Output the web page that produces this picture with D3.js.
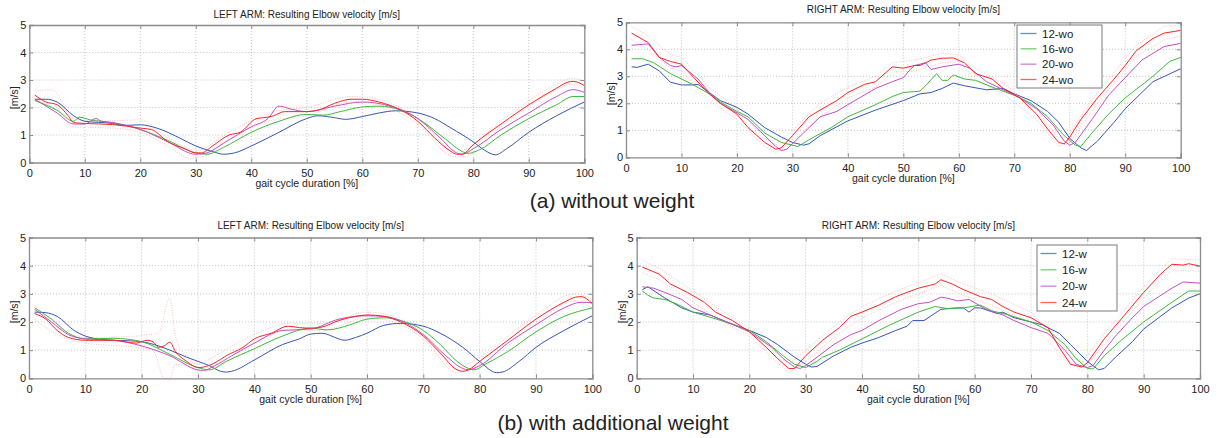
<!DOCTYPE html>
<html>
<head>
<meta charset="utf-8">
<script src="https://cdn.jsdelivr.net/npm/d3@7"></script>
<style>
  body { margin: 0; background: #fff; }
  svg text { font-family: "Liberation Sans", Arial, sans-serif; fill: #222; }
</style>
</head>
<body>
<script>
// tick values shared by all panels
const xTicks = [0, 10, 20, 30, 40, 50, 60, 70, 80, 90, 100];
const yTicks = [0, 1, 2, 3, 4, 5];
const seriesColors = ["#3556b6", "#3eb83e", "#c24fc2", "#ff2222"];
const legendWo = ["12-wo", "16-wo", "20-wo", "24-wo"];
const legendW = ["12-w", "16-w", "20-w", "24-w"];

// (a) without weight, LEFT ARM
const leftWo12 = [[1,2.3],[3,2.3],[5,2.2],[8,1.7],[10,1.5],[15,1.42],[17,1.35],[20,1.37],[23,1.25],[27,0.9],[30,0.6],[33,0.4],[35,0.3],[37,0.35],[40,0.6],[45,1.1],[50,1.6],[52,1.7],[55,1.63],[57,1.57],[60,1.67],[63,1.8],[66,1.88],[70,1.8],[73,1.6],[76,1.25],[80,0.75],[82,0.45],[84,0.28],[86,0.5],[90,1.1],[95,1.7],[100,2.2]];
const leftWo16 = [[1,2.25],[5,1.9],[8,1.5],[9,1.65],[11,1.55],[15,1.45],[20,1.2],[25,0.8],[30,0.35],[32,0.3],[35,0.55],[40,1.1],[45,1.5],[50,1.75],[53,1.72],[56,1.85],[60,2.02],[63,2.05],[67,1.9],[70,1.6],[75,0.85],[78,0.4],[79,0.33],[81,0.45],[85,1.0],[90,1.6],[95,2.1],[98,2.4],[100,2.4]];
const leftWo20 = [[1,2.3],[5,1.8],[8,1.4],[10,1.4],[12,1.6],[13,1.5],[15,1.45],[20,1.2],[25,0.75],[30,0.3],[32,0.35],[35,0.7],[40,1.3],[43,1.6],[45,2.05],[47,1.95],[50,1.85],[55,2.05],[60,2.2],[65,2.05],[70,1.6],[74,0.9],[77,0.35],[78,0.3],[80,0.5],[85,1.2],[90,1.8],[95,2.4],[98,2.65],[100,2.55]];
const leftWo24 = [[1,2.45],[3,2.2],[5,2.1],[7,1.7],[8,1.45],[10,1.42],[15,1.38],[20,1.25],[22,1.2],[25,0.75],[28,0.5],[30,0.35],[31,0.35],[33,0.6],[36,1.0],[38,1.1],[41,1.6],[43,1.65],[44,1.7],[46,1.85],[50,1.85],[52,1.9],[55,2.15],[58,2.3],[60,2.3],[63,2.2],[67,1.9],[70,1.5],[73,0.9],[76,0.4],[77,0.3],[78,0.3],[80,0.65],[85,1.4],[90,2.1],[95,2.7],[97,2.92],[98,2.95],[100,2.8]];
// faint dotted spread lines of the 24-wo series
const leftWo24Up = [[1,2.6],[4,2.65],[8,1.6],[12,1.5],[20,1.55],[25,0.9],[30,0.45],[36,1.1],[44,1.85],[50,2.0],[58,2.4],[63,2.3],[70,1.6],[77,0.4],[85,1.5],[92,2.5],[98,3.05],[100,2.95]];
const leftWo24Low = [[1,2.3],[5,1.9],[8,1.3],[15,1.25],[20,1.1],[25,0.6],[29,0.15],[31,0.2],[36,0.85],[44,1.55],[50,1.7],[58,2.2],[63,2.1],[70,1.4],[76,0.25],[78,0.2],[85,1.3],[92,2.3],[98,2.85],[100,2.65]];

// (a) without weight, RIGHT ARM
const rightWo12 = [[1,3.35],[2,3.33],[4,3.45],[6,3.2],[8,2.78],[10,2.68],[12,2.68],[13,2.7],[15,2.4],[17,2.1],[20,1.85],[22,1.6],[25,1.1],[28,0.75],[30,0.55],[32,0.45],[33,0.5],[35,0.8],[40,1.35],[45,1.75],[50,2.1],[53,2.35],[55,2.4],[57,2.55],[59,2.75],[61,2.65],[65,2.5],[68,2.55],[70,2.35],[73,2.1],[76,1.7],[78,1.3],[80,0.7],[82,0.35],[83,0.25],[85,0.6],[88,1.3],[90,1.8],[95,2.8],[100,3.28]];
const rightWo16 = [[1,3.65],[3,3.65],[5,3.5],[8,3.1],[10,2.9],[12,2.7],[15,2.35],[17,2.05],[20,1.7],[22,1.5],[25,0.9],[28,0.55],[30,0.45],[31,0.4],[33,0.65],[37,1.1],[40,1.5],[45,1.95],[48,2.25],[50,2.4],[53,2.45],[54,2.65],[56,3.1],[57,2.85],[58,2.85],[59,3.05],[61,2.9],[63,2.85],[66,2.6],[70,2.3],[73,2.0],[76,1.5],[79,0.8],[81,0.45],[82,0.4],[84,0.9],[87,1.6],[90,2.2],[95,3.0],[98,3.55],[100,3.7]];
const rightWo20 = [[1,4.15],[4,4.2],[6,3.7],[8,3.4],[9,3.35],[10,3.4],[13,2.9],[15,2.4],[17,2.0],[20,1.65],[22,1.4],[25,0.8],[27,0.4],[28,0.25],[29,0.3],[32,0.9],[35,1.5],[38,1.7],[40,1.95],[45,2.55],[48,2.8],[50,2.95],[51,3.2],[52,3.4],[54,3.5],[55,3.25],[57,3.35],[60,3.45],[62,3.3],[65,2.8],[68,2.5],[71,2.2],[74,1.8],[77,1.2],[79,0.6],[80,0.45],[81,0.55],[84,1.4],[87,2.3],[90,2.95],[93,3.6],[97,4.1],[100,4.22]];
const rightWo24 = [[1,4.6],[4,4.25],[6,3.7],[8,3.55],[10,3.45],[12,3.0],[15,2.35],[17,2.0],[20,1.6],[22,1.1],[25,0.55],[27,0.3],[28,0.35],[30,0.8],[33,1.5],[35,1.75],[38,2.1],[40,2.4],[43,2.7],[45,2.8],[48,3.35],[50,3.3],[52,3.4],[53,3.4],[55,3.6],[57,3.67],[59,3.68],[61,3.5],[63,3.1],[66,2.9],[68,2.55],[71,2.2],[74,1.6],[76,1.05],[78,0.55],[79,0.5],[80,0.75],[82,1.4],[85,2.2],[88,2.9],[90,3.4],[92,3.95],[95,4.4],[97,4.6],[100,4.7]];
const rightWo24Up = [[1,4.85],[4,4.5],[8,3.8],[10,3.7],[15,2.6],[20,1.8],[25,0.7],[27,0.45],[30,1.0],[35,2.0],[40,2.6],[45,3.0],[48,3.5],[52,3.6],[57,3.85],[60,3.8],[63,3.3],[68,2.75],[74,1.8],[78,0.7],[80,0.9],[85,2.4],[92,4.15],[97,4.85],[100,4.9]];
const rightWo24Low = [[1,4.35],[4,4.0],[8,3.3],[10,3.2],[15,2.1],[20,1.4],[25,0.4],[27,0.15],[30,0.6],[35,1.5],[40,2.2],[45,2.6],[48,3.15],[52,3.2],[57,3.5],[60,3.55],[63,2.9],[68,2.35],[74,1.4],[78,0.4],[80,0.55],[85,2.0],[92,3.75],[97,4.35],[100,4.5]];

// (b) with additional weight, LEFT ARM
const leftW12 = [[1,2.35],[3,2.33],[5,2.2],[8,1.7],[10,1.5],[12,1.4],[15,1.35],[18,1.33],[20,1.3],[23,1.15],[25,1.0],[28,0.75],[30,0.6],[32,0.45],[34,0.25],[35,0.22],[36,0.25],[40,0.65],[45,1.2],[48,1.4],[50,1.57],[52,1.6],[55,1.4],[56,1.35],[58,1.45],[60,1.6],[63,1.88],[66,1.95],[70,1.85],[73,1.6],[77,1.1],[80,0.6],[83,0.2],[84,0.22],[87,0.6],[90,1.1],[95,1.7],[100,2.22]];
const leftW16 = [[1,2.5],[4,2.1],[7,1.6],[10,1.4],[15,1.42],[20,1.3],[25,0.85],[30,0.38],[32,0.3],[35,0.6],[40,1.05],[45,1.5],[50,1.78],[53,1.72],[57,1.9],[60,2.1],[63,2.15],[66,2.05],[70,1.7],[73,1.2],[76,0.6],[78,0.35],[79,0.3],[81,0.5],[85,0.95],[90,1.65],[95,2.2],[100,2.5]];
const leftW20 = [[1,2.45],[4,2.0],[7,1.55],[10,1.4],[15,1.35],[20,1.15],[25,0.8],[30,0.3],[31,0.28],[33,0.45],[36,0.8],[40,1.25],[45,1.7],[50,1.75],[55,2.1],[60,2.22],[63,2.2],[67,1.95],[70,1.55],[74,0.8],[77,0.35],[78,0.3],[80,0.45],[85,1.25],[90,1.9],[95,2.5],[98,2.7],[100,2.68]];
const leftW24 = [[1,2.3],[3,2.1],[5,1.7],[7,1.45],[10,1.35],[15,1.35],[19,1.25],[21,1.35],[22,1.3],[23,1.1],[24,1.15],[25,1.28],[26,0.95],[28,0.6],[30,0.38],[31,0.4],[33,0.55],[35,0.8],[38,1.1],[40,1.4],[43,1.6],[46,1.85],[48,1.8],[50,1.78],[52,1.82],[55,2.05],[58,2.2],[60,2.25],[63,2.2],[66,2.0],[70,1.5],[73,0.9],[76,0.3],[77,0.25],[78,0.3],[80,0.6],[85,1.35],[90,2.1],[95,2.7],[97,2.88],[98,2.9],[100,2.65]];
const leftW24Up = [[1,2.6],[5,1.85],[10,1.45],[19,1.5],[21,1.55],[23,1.6],[25,2.85],[26,1.5],[28,0.75],[30,0.5],[33,0.8],[40,1.55],[46,1.95],[52,1.95],[60,2.35],[66,2.1],[70,1.6],[76,0.4],[80,0.75],[90,2.25],[97,3.0],[100,2.8]];
const leftW24Low = [[1,2.1],[5,1.55],[10,1.25],[19,1.1],[22,1.0],[24,0.0],[25,0.0],[26,0.5],[28,0.45],[30,0.25],[33,0.35],[40,1.25],[46,1.7],[52,1.7],[60,2.15],[66,1.9],[70,1.4],[76,0.2],[80,0.45],[90,1.95],[97,2.75],[100,2.5]];

// (b) with additional weight, RIGHT ARM
const rightW12 = [[1,3.15],[2,3.25],[5,2.85],[8,2.5],[10,2.35],[13,2.25],[16,2.0],[20,1.7],[23,1.45],[25,1.2],[28,0.75],[30,0.5],[31,0.4],[32,0.42],[35,0.8],[38,1.1],[40,1.25],[43,1.45],[46,1.7],[48,1.85],[49,2.05],[51,2.05],[54,2.45],[57,2.5],[58,2.5],[59,2.35],[60,2.5],[61,2.5],[64,2.3],[65,2.35],[67,2.15],[69,2.05],[72,1.9],[75,1.6],[77,1.2],[80,0.6],[82,0.3],[83,0.35],[85,0.75],[88,1.3],[90,1.75],[95,2.5],[98,2.85],[100,3.0]];
const rightW16 = [[1,3.1],[2,2.95],[3,2.85],[5,2.8],[7,2.65],[10,2.35],[15,2.05],[20,1.7],[23,1.3],[26,0.8],[28,0.5],[30,0.38],[32,0.6],[33,0.75],[36,1.0],[40,1.4],[45,1.9],[50,2.35],[53,2.55],[55,2.48],[58,2.5],[61,2.6],[63,2.4],[66,2.25],[70,2.0],[73,1.7],[76,1.2],[78,0.7],[80,0.35],[81,0.33],[83,0.8],[86,1.35],[90,2.0],[95,2.7],[98,3.1],[100,3.1]];
const rightW20 = [[1,3.25],[3,3.2],[5,3.05],[8,2.8],[10,2.5],[13,2.25],[16,2.0],[20,1.65],[24,1.1],[26,0.7],[28,0.4],[29,0.35],[30,0.45],[32,0.75],[35,1.2],[38,1.55],[40,1.7],[43,2.05],[47,2.45],[50,2.65],[52,2.7],[54,2.88],[55,2.85],[57,2.75],[59,2.8],[62,2.45],[65,2.25],[67,2.05],[70,1.8],[73,1.6],[76,1.0],[78,0.5],[80,0.38],[81,0.45],[83,1.0],[85,1.5],[88,2.15],[90,2.55],[95,3.2],[97,3.42],[100,3.38]];
const rightW24 = [[1,3.95],[4,3.7],[6,3.35],[9,3.05],[12,2.7],[14,2.35],[17,2.05],[20,1.65],[23,1.1],[25,0.7],[27,0.35],[28,0.35],[30,0.8],[33,1.35],[36,1.8],[38,2.2],[40,2.35],[43,2.6],[46,2.9],[48,3.05],[50,3.2],[52,3.3],[53,3.35],[54,3.5],[56,3.35],[58,3.15],[61,2.9],[63,2.8],[65,2.55],[67,2.35],[70,2.15],[73,1.8],[75,1.1],[77,0.5],[79,0.4],[80,0.55],[83,1.4],[86,2.1],[90,3.05],[93,3.7],[95,4.05],[97,4.02],[98,4.07],[100,3.98]];
const rightW24Up = [[1,4.2],[4,3.9],[9,3.25],[14,2.55],[20,1.8],[25,0.85],[27,0.5],[30,1.0],[36,2.0],[40,2.55],[46,3.1],[50,3.4],[54,3.7],[58,3.35],[63,3.0],[70,2.35],[75,1.3],[79,0.55],[83,1.6],[90,3.25],[95,4.25],[100,4.2]];
const rightW24Low = [[1,3.75],[4,3.5],[9,2.85],[14,2.15],[20,1.5],[25,0.55],[27,0.2],[30,0.6],[36,1.6],[40,2.15],[46,2.7],[50,3.0],[54,3.3],[58,2.95],[63,2.6],[70,1.95],[75,0.9],[79,0.25],[83,1.2],[90,2.85],[95,3.85],[100,3.8]];

const width = 1219, height = 438;
const svg = d3.select("body").append("svg")
    .attr("width", width)
    .attr("height", height);

const panels = [
  { title: "LEFT ARM: Resulting Elbow velocity [m/s]", box: [29.3, 584.3, 25, 162.5], titleY: 18,
    lines: [leftWo12, leftWo16, leftWo20, leftWo24], spread: [leftWo24Up, leftWo24Low], smooth: true },
  { title: "RIGHT ARM: Resulting Elbow velocity [m/s]", box: [626, 1180.7, 22.3, 157.3], titleY: 13,
    lines: [rightWo12, rightWo16, rightWo20, rightWo24], spread: [rightWo24Up, rightWo24Low], smooth: false,
    legend: { names: legendWo, x: 1017, y: 25, w: 85, h: 63 } },
  { title: "LEFT ARM: Resulting Elbow velocity [m/s]", box: [29, 592.3, 237.5, 378.3], titleY: 229,
    lines: [leftW12, leftW16, leftW20, leftW24], spread: [leftW24Up, leftW24Low], smooth: true },
  { title: "RIGHT ARM: Resulting Elbow velocity [m/s]", box: [636.7, 1200, 237.5, 378.3], titleY: 229,
    lines: [rightW12, rightW16, rightW20, rightW24], spread: [rightW24Up, rightW24Low], smooth: false,
    legend: { names: legendW, x: 1037, y: 245, w: 80, h: 66 } }
];

const tickFont = '"Liberation Sans Narrow", "Liberation Sans", Arial, sans-serif';

panels.forEach(p => {
  const [l, r, t, b] = p.box;
  const x = d3.scaleLinear().domain([0, 100]).range([l, r]);
  const y = d3.scaleLinear().domain([0, 5]).range([b, t]);
  const g = svg.append("g");

  // dotted grid
  g.append("g").selectAll("line").data(xTicks.slice(1, -1)).enter().append("line")
    .attr("x1", d => x(d)).attr("x2", d => x(d)).attr("y1", t).attr("y2", b)
    .attr("stroke", "#b5b5b5").attr("stroke-width", 0.8).attr("stroke-dasharray", "1,2");
  g.append("g").selectAll("line").data(yTicks.slice(1, -1)).enter().append("line")
    .attr("y1", d => y(d)).attr("y2", d => y(d)).attr("x1", l).attr("x2", r)
    .attr("stroke", "#b5b5b5").attr("stroke-width", 0.8).attr("stroke-dasharray", "1,2");

  const line = d3.line().x(d => x(d[0])).y(d => y(d[1]))
    .curve(p.smooth ? d3.curveMonotoneX : d3.curveLinear);

  // faint dotted spread of the heaviest series
  p.spread.forEach(s => {
    g.append("path").datum(s).attr("d", line)
      .attr("fill", "none").attr("stroke", "#ff9a9a").attr("stroke-width", 0.8)
      .attr("stroke-dasharray", "1,1.5").attr("opacity", 0.8);
  });

  // series
  p.lines.forEach((s, i) => {
    g.append("path").datum(s).attr("d", line)
      .attr("fill", "none").attr("stroke", seriesColors[i]).attr("stroke-width", 1);
  });

  // axes, ticks pointing inward
  const xAxis = d3.axisBottom(x).tickValues(xTicks).tickSize(-4).tickPadding(6.5).tickFormat(d3.format("d"));
  const yAxis = d3.axisLeft(y).tickValues(yTicks).tickSize(-4).tickPadding(3).tickFormat(d3.format("d"));
  const xTop = d3.axisTop(x).tickValues(xTicks).tickSize(-4).tickFormat("");
  const yRight = d3.axisRight(y).tickValues(yTicks).tickSize(-4).tickFormat("");
  [
    g.append("g").attr("transform", `translate(0,${b})`).call(xAxis),
    g.append("g").attr("transform", `translate(${l},0)`).call(yAxis),
    g.append("g").attr("transform", `translate(0,${t})`).call(xTop),
    g.append("g").attr("transform", `translate(${r},0)`).call(yRight)
  ].forEach(a => {
    a.select(".domain").attr("stroke", "#8c8c8c").attr("stroke-width", 1.3);
    a.selectAll(".tick line").attr("stroke", "#8c8c8c");
    a.selectAll("text").attr("font-size", 11).attr("fill", "#222").style("font-family", tickFont);
  });

  // titles and labels
  g.append("text").attr("x", (l + r) / 2).attr("y", p.titleY).attr("text-anchor", "middle")
    .attr("font-size", 10).text(p.title);
  g.append("text").attr("x", (l + r) / 2).attr("y", b + 24.5).attr("text-anchor", "middle")
    .attr("font-size", 10.5).text("gait cycle duration [%]");
  g.append("text").attr("transform", `translate(${l - 11},${(t + b) / 2 + 4}) rotate(-90)`)
    .attr("text-anchor", "middle").attr("font-size", 10.5).text("[m/s]");

  // legend
  if (p.legend) {
    const L = p.legend;
    const lg = g.append("g");
    lg.append("rect").attr("x", L.x).attr("y", L.y).attr("width", L.w).attr("height", L.h)
      .attr("fill", "#fff").attr("stroke", "#7a7a7a").attr("stroke-width", 1);
    const step = (L.h - 17) / 3;
    L.names.forEach((n, i) => {
      const yy = L.y + 8.5 + i * step;
      lg.append("line").attr("x1", L.x + 3.5).attr("x2", L.x + 19.5).attr("y1", yy).attr("y2", yy)
        .attr("stroke", seriesColors[i]).attr("stroke-width", 1.3).attr("opacity", 0.7);
      lg.append("text").attr("x", L.x + 25).attr("y", yy + 4).attr("font-size", 11.5).text(n);
    });
  }
});

// captions
svg.append("text").attr("x", 612).attr("y", 208)
  .attr("text-anchor", "middle").attr("font-size", 21).attr("fill", "#111").text("(a) without weight");
svg.append("text").attr("x", 613).attr("y", 430)
  .attr("text-anchor", "middle").attr("font-size", 21).attr("fill", "#111").text("(b) with additional weight");
</script>
</body>
</html>
